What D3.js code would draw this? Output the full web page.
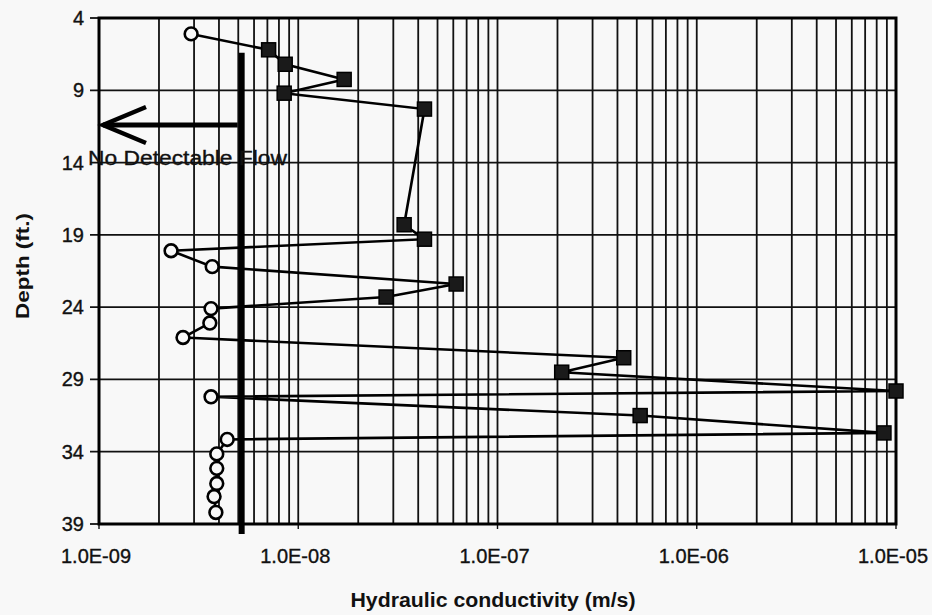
<!doctype html>
<html>
<head>
<meta charset="utf-8">
<style>
    body { margin: 0; background: #f8f8f8; }
    svg { display: block; font-family: "Liberation Sans", Arial, sans-serif; }
    .grid line { stroke: #111; stroke-width: 1.8; }
    .lbl { font-size: 20px; fill: #111; stroke: #111; stroke-width: 0.35; }
</style>
<script src="https://d3js.org/d3.v7.min.js"></script>
</head>
<body>
<svg width="932" height="615"></svg>
<script>
    // depth below surface (ft) for each test interval, top to bottom
    var depths = [5.1, 6.2, 7.2, 8.25, 9.2, 10.3, 18.3, 19.3, 20.1, 21.2, 22.4, 23.3, 24.1, 25.1,
                  26.1, 27.5, 28.5, 29.8, 30.2, 31.5, 32.7, 33.15, 34.15, 35.15, 36.2, 37.1, 38.2];
    // hydraulic conductivity (m/s)
    var conductivity = [2.9e-9, 7.1e-9, 8.6e-9, 1.7e-8, 8.5e-9, 4.3e-8, 3.4e-8, 4.3e-8, 2.3e-9, 3.7e-9,
                        6.2e-8, 2.76e-8, 3.65e-9, 3.6e-9, 2.64e-9, 4.3e-7, 2.1e-7, 1.0e-5, 3.65e-9,
                        5.2e-7, 8.7e-6, 4.4e-9, 3.9e-9, 3.9e-9, 3.9e-9, 3.78e-9, 3.86e-9];
    // 1 = measurable flow (square), 0 = below detection (open circle)
    var detected = [0, 1, 1, 1, 1, 1, 1, 1, 0, 0, 1, 1, 0, 0, 0, 1, 1, 1, 0, 1, 1, 0, 0, 0, 0, 0, 0];

    var xTicks = [1e-9, 1e-8, 1e-7, 1e-6, 1e-5];
    var xTickLabels = ["1.0E-09", "1.0E-08", "1.0E-07", "1.0E-06", "1.0E-05"];
    var yTicks = [4, 9, 14, 19, 24, 29, 34, 39];

    var detectionLimit = 5.2e-9;     // "No Detectable Flow" line
    var limitDepths = [6.4, 39.7];
    var arrowDepth = 11.4;

    var svg = d3.select("svg");
    svg.append("rect").attr("width", 932).attr("height", 615).attr("fill", "#f8f8f8");

    var x = d3.scaleLog().domain([1e-9, 1e-5]).range([99, 896]),
        y = d3.scaleLinear().domain([4, 39]).range([18, 524]);

    var data = depths.map(function(d, i) {
        return { depth: d, k: conductivity[i], det: detected[i] };
    });

    // vertical log gridlines (every minor step)
    var g = svg.append("g").attr("class", "grid");
    g.selectAll(".vx")
     .data(x.ticks().filter(function(v) { return v > 1e-9 && v < 1e-5; }))
     .enter().append("line")
     .attr("x1", function(d) { return x(d); })
     .attr("x2", function(d) { return x(d); })
     .attr("y1", y(4)).attr("y2", y(39));

    // horizontal gridlines + left ticks
    g.selectAll(".hy")
     .data(yTicks.slice(1, -1))
     .enter().append("line")
     .attr("x1", x(1e-9) - 9).attr("x2", x(1e-5))
     .attr("y1", function(d) { return y(d); })
     .attr("y2", function(d) { return y(d); });
    g.selectAll(".ty")
     .data([4, 39])
     .enter().append("line")
     .attr("x1", x(1e-9) - 9).attr("x2", x(1e-9))
     .attr("y1", function(d) { return y(d); })
     .attr("y2", function(d) { return y(d); });
    g.selectAll(".tx")
     .data(xTicks)
     .enter().append("line")
     .style("stroke-width", 1.4)
     .attr("x1", function(d) { return x(d); })
     .attr("x2", function(d) { return x(d); })
     .attr("y1", y(39)).attr("y2", y(39) + 5);

    // plot frame
    svg.append("rect")
       .attr("x", x(1e-9)).attr("y", y(4))
       .attr("width", x(1e-5) - x(1e-9)).attr("height", y(39) - y(4))
       .attr("fill", "none").attr("stroke", "#000").attr("stroke-width", 3);

    // detection limit line
    svg.append("line")
       .attr("x1", x(detectionLimit)).attr("x2", x(detectionLimit))
       .attr("y1", y(limitDepths[0])).attr("y2", y(limitDepths[1]))
       .attr("stroke", "#000").attr("stroke-width", 6);

    // arrow pointing left
    var ay = y(arrowDepth), ax0 = x(detectionLimit) - 4, ax1 = x(1e-9) + 4;
    svg.append("line")
       .attr("x1", ax0).attr("x2", ax1).attr("y1", ay).attr("y2", ay)
       .attr("stroke", "#000").attr("stroke-width", 5);
    svg.append("path")
       .attr("d", "M" + (ax1 + 43) + "," + (ay - 18) + "L" + ax1 + "," + ay + "L" + (ax1 + 43) + "," + (ay + 18))
       .attr("fill", "none").attr("stroke", "#000").attr("stroke-width", 4.5);

    svg.append("text")
       .attr("class", "lbl")
       .attr("x", 88).attr("y", y(14) + 2)
       .attr("font-size", 21)
       .attr("textLength", 199).attr("lengthAdjust", "spacingAndGlyphs")
       .text("No Detectable Flow");

    // connecting line
    svg.append("path")
       .datum(data)
       .attr("fill", "none").attr("stroke", "#000").attr("stroke-width", 2.6)
       .attr("d", d3.line()
           .x(function(d) { return x(d.k); })
           .y(function(d) { return y(d.depth); }));

    // markers
    svg.selectAll(".sq")
       .data(data.filter(function(d) { return d.det; }))
       .enter().append("rect")
       .attr("x", function(d) { return x(d.k) - 7; })
       .attr("y", function(d) { return y(d.depth) - 7; })
       .attr("width", 14).attr("height", 14)
       .attr("fill", "#1a1a1a").attr("stroke", "#000").attr("stroke-width", 1.5);

    svg.selectAll(".ci")
       .data(data.filter(function(d) { return !d.det; }))
       .enter().append("circle")
       .attr("cx", function(d) { return x(d.k); })
       .attr("cy", function(d) { return y(d.depth); })
       .attr("r", 6.4)
       .attr("fill", "#f8f8f8").attr("stroke", "#000").attr("stroke-width", 2.6);

    // axis labels
    svg.selectAll(".yl")
       .data(yTicks)
       .enter().append("text")
       .attr("class", "lbl")
       .attr("x", 84)
       .attr("y", function(d) { return y(d) + 7; })
       .attr("text-anchor", "end")
       .text(function(d) { return d; });

    svg.selectAll(".xl")
       .data(xTicks)
       .enter().append("text")
       .attr("class", "lbl")
       .attr("font-size", 21)
       .attr("x", function(d) { return x(d) - 3; })
       .attr("y", 563)
       .attr("text-anchor", "middle")
       .text(function(d, i) { return xTickLabels[i]; });

    svg.append("text")
       .attr("x", 493).attr("y", 607)
       .attr("text-anchor", "middle")
       .attr("font-size", 20).attr("font-weight", "bold").attr("fill", "#111")
       .attr("textLength", 285).attr("lengthAdjust", "spacingAndGlyphs")
       .text("Hydraulic conductivity (m/s)");

    svg.append("text")
       .attr("transform", "translate(29,266) rotate(-90)")
       .attr("text-anchor", "middle")
       .attr("font-size", 18).attr("font-weight", "bold").attr("fill", "#111")
       .attr("textLength", 106).attr("lengthAdjust", "spacingAndGlyphs")
       .text("Depth (ft.)");
</script>
</body>
</html>
